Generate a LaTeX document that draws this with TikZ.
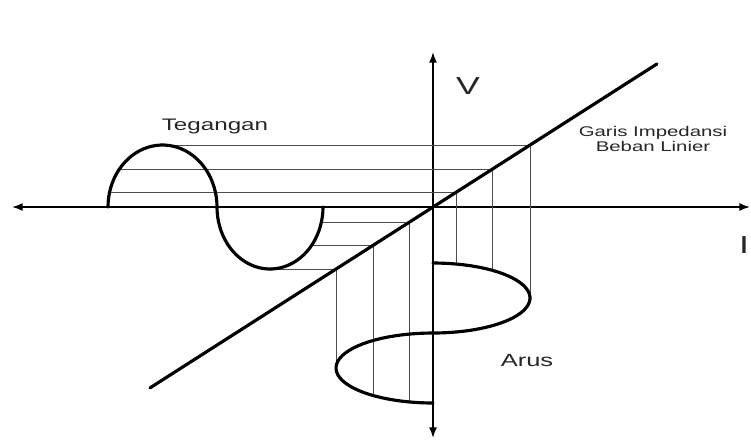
\documentclass[tikz,border=0pt]{standalone}
\usepackage{fontspec}
\usepackage{tikz}
\usetikzlibrary{arrows.meta}
\usetikzlibrary{positioning}
\newfontfamily\lblfont[FakeStretch=1.45]{Liberation Sans}

\begin{document}
\begin{tikzpicture}[x=0.02cm, y=-0.02cm,
    axis/.style={line width=0.9pt, {Latex[length=6pt,width=4.5pt]}-{Latex[length=6pt,width=4.5pt]}},
    wave/.style={line width=1.8pt, line cap=round},
    proj/.style={line width=0.45pt, black!70},
    lbl/.style={font=\lblfont, text=black!85, inner sep=0pt}]
    \useasboundingbox (0,0) rectangle (751,441);
    % axes
    \coordinate (O) at (433,207);
    \coordinate (xl) at (12,207);
    \coordinate (xr) at (750,207);
    \coordinate (yt) at (433,52);
    \coordinate (yb) at (433,438);
    \draw[axis] (xl) -- (xr);
    \draw[axis] (yt) -- (yb);
    % projection lines
    \foreach \f [count=\i] in {1,0.613,0.242} {
        \coordinate (vu\i) at ({162.5-54.5*sqrt(1-\f*\f)},{207-62*\f});
        \coordinate (lu\i) at ({433+97*\f},{207-62*\f});
        \coordinate (cu\i) at ({433+97*\f},{298-35*sqrt(1-\f*\f)});
        \draw[proj] (vu\i) -- (lu\i) -- (cu\i);
        \coordinate (vd\i) at ({270+53*sqrt(1-\f*\f)},{207+62*\f});
        \coordinate (ld\i) at ({433-97*\f},{207+62*\f});
        \coordinate (cd\i) at ({433-97*\f},{368+35*sqrt(1-\f*\f)});
        \draw[proj] (vd\i) -- (ld\i) -- (cd\i);
    }
    % load line
    \coordinate (load-lo) at (150,387.9);
    \coordinate (load-hi) at (657,63.9);
    \draw[wave] (load-lo) -- (load-hi);
    % voltage and current
    \draw[wave] plot[domain=0:180, samples=40] ({162.5-54.5*cos(\x)},{207-62*sin(\x)})
        -- plot[domain=0:180, samples=40] ({270-53*cos(\x)},{207+62*sin(\x)});
    \draw[wave] plot[domain=0:180, samples=40] ({433+97*sin(\x)},{298-35*cos(\x)})
        -- plot[domain=180:360, samples=40] ({433+97*sin(\x)},{368+35*cos(\x)});
    % labels
    \node[lbl, font=\lblfont\fontsize{9.5}{11}\selectfont] (tegangan) at (215,126) {Tegangan};
    \node[lbl, font=\lblfont\fontsize{8}{8.5}\selectfont, align=center] (garis) at (653,139) {Garis Impedansi\\Beban Linier};
    \node[lbl, font=\lblfont\fontsize{10}{12}\selectfont] (arus) at (527,361) {Arus};
    \node[lbl, font=\lblfont\fontsize{14}{16}\selectfont] (vlabel) at (468,86) {V};
    \node[lbl, font=\lblfont\fontsize{14}{16}\selectfont] (ilabel) at (744,245) {I};
\end{tikzpicture}
\end{document}
